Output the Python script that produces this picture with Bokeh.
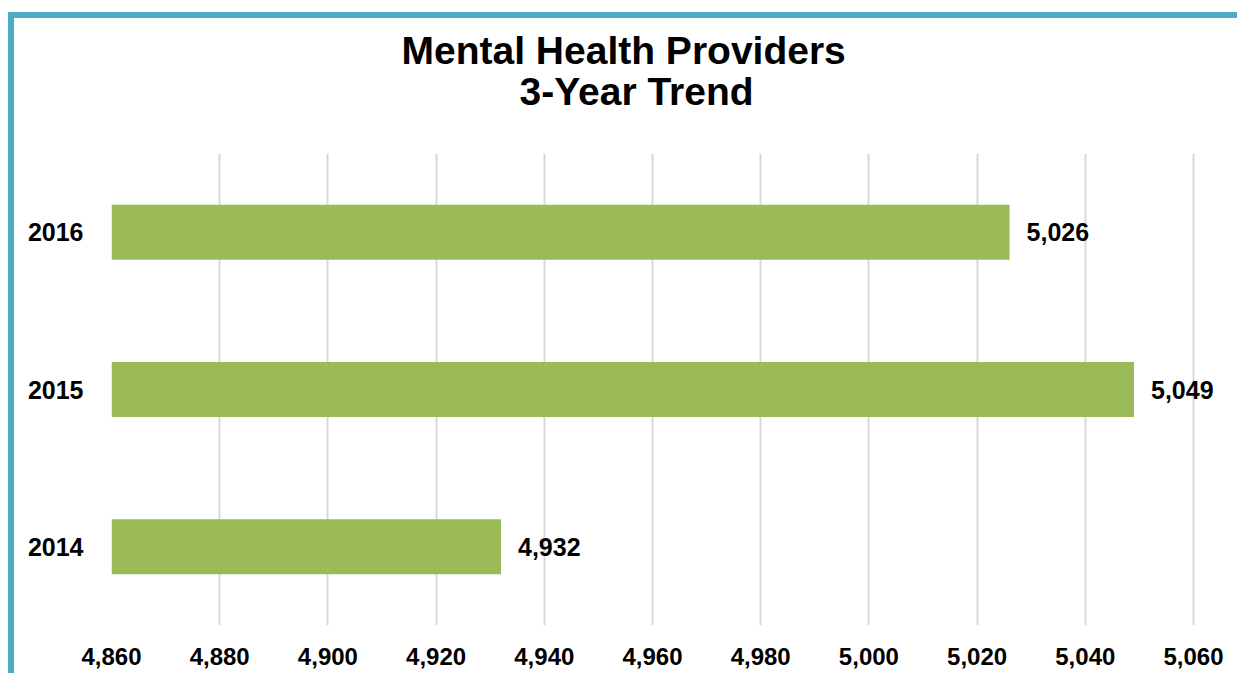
from bokeh.plotting import figure
from bokeh.models import (ColumnDataSource, FactorRange, FixedTicker, NumeralTickFormatter,
                          LabelSet, Title)
from bokeh.core.properties import value
from bokeh.embed import file_html
from bokeh.resources import INLINE

years = ["2014", "2015", "2016"]
providers = [4932, 5049, 5026]
labels = ["4,932", "5,049", "5,026"]
x_min, x_max, x_step = 4860, 5060, 20
title_line1 = "Mental Health Providers"
title_line2 = "3-Year Trend"

FONT = "Liberation Sans"
TEAL = "#4BACC6"
W, H = 1229, 661
# frame extends to right edge so value labels are not clipped; keep the 4860..5060 scale
x_end = x_max + 50 * (x_max - x_min) / 1082.0

src = ColumnDataSource(dict(y=years, v=providers, lab=labels, base=[x_min] * len(years)))

p = figure(width=W, height=H, output_backend="svg", toolbar_location=None,
           y_range=FactorRange(*years), x_range=(x_min, x_end),
           min_border_left=97, min_border_right=0, min_border_top=135, min_border_bottom=54)
p.outline_line_color = None
p.background_fill_color = "white"
p.border_fill_color = "white"
p.styles = {"margin-left": "8px", "margin-top": "12px",
            "border-left": "6px solid " + TEAL, "border-top": "6px solid " + TEAL}

p.hbar(y="y", left="base", right="v", height=0.35, source=src,
       fill_color="#9BBB59", line_color=None)

p.add_layout(LabelSet(x="v", y="y", text="lab", source=src, x_offset=17,
                      text_baseline="middle", text_align="left",
                      text_font=value(FONT), text_font_style="bold", text_font_size="25px",
                      text_color="black"))

p.xaxis.ticker = FixedTicker(ticks=list(range(x_min, x_max + 1, x_step)))
p.xaxis.formatter = NumeralTickFormatter(format="0,0")
for ax in (p.xaxis, p.yaxis):
    ax.axis_line_color = None
    ax.major_tick_line_color = None
    ax.minor_tick_line_color = None
    ax.major_tick_out = 0
    ax.major_tick_in = 0
    ax.major_label_text_font = FONT
    ax.major_label_text_font_style = "bold"
    ax.major_label_text_color = "black"
p.xaxis.major_label_text_font_size = "24px"
p.yaxis.major_label_text_font_size = "25px"
p.xaxis.major_label_standoff = 22
p.yaxis.major_label_standoff = 28

p.xgrid.grid_line_color = "#D9D9D9"
p.xgrid.grid_line_width = 2
p.ygrid.grid_line_color = None

# second line is nearest the frame, so it is added first
p.add_layout(Title(text=title_line2, align="left", offset=408, standoff=82,
                   text_font=FONT, text_font_style="bold", text_font_size="39px",
                   text_line_height=1.0, text_color="black"), "above")
p.add_layout(Title(text=title_line1, align="left", offset=290, standoff=-90,
                   text_font=FONT, text_font_style="bold", text_font_size="39px",
                   text_line_height=1.0, text_color="black"), "above")

open("out.html", "w").write(file_html(p, INLINE))
